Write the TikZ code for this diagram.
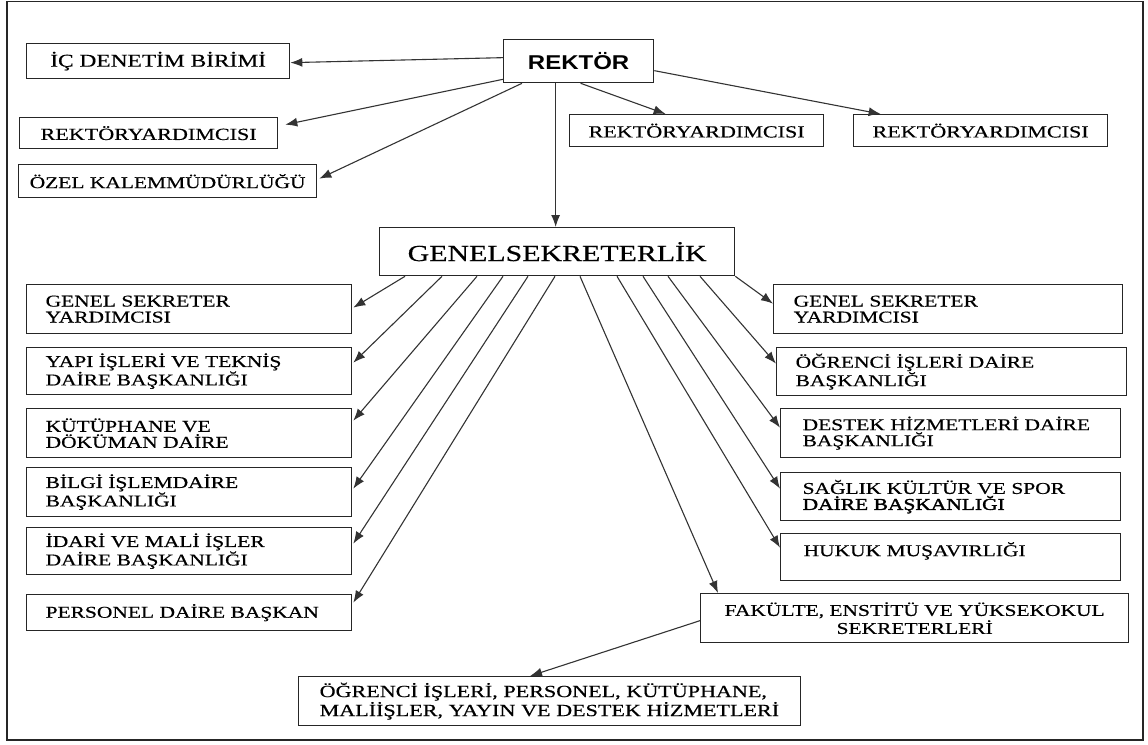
\documentclass[tikz,border=0pt]{standalone}
\usepackage{fontspec}
\setmainfont{Liberation Serif}[FakeStretch=1.3,FakeBold=0.5]
\newfontfamily\rkfont{Liberation Sans}[FakeStretch=1.2]
\newfontfamily\semib{Liberation Serif}[FakeStretch=1.3,FakeBold=1.8]
\usetikzlibrary{arrows.meta}
\newcommand{\fsz}[2]{\fontsize{#1}{#2}\selectfont}
\begin{document}
\begin{tikzpicture}[x=1pt,y=-1pt,
  box/.style={draw=black!85, line width=1.3pt, anchor=north west, inner ysep=0pt, text=black},
  sz/.style n args={2}{minimum width=#1, minimum height=#2},
  lb/.style={box, align=left, font=\fsz{16.5}{16}},
  arr/.style={draw=black!80, line width=1.1pt, -{Latex[length=12pt,width=9pt]}}
]
\useasboundingbox (0,0) rectangle (1148,744);
\draw[line width=1.8pt, black!85] (7,1.5) rectangle (1143,740);

% top level
\node[box, sz={263}{35}, font=\fsz{18}{18}] (ic) at (26,43) {İÇ DENETİM BİRİMİ};
\node[box, sz={150}{43}, font=\rkfont\bfseries\fsz{20}{20}] (rk) at (503,39) {REKTÖR};
\node[box, sz={258}{31}, font=\fsz{17}{17}] (ry1) at (19,117) {REKTÖRYARDIMCISI};
\node[box, sz={298}{33}, font=\fsz{16.5}{16}] (oz) at (18,164) {ÖZEL KALEMMÜDÜRLÜĞÜ};
\node[box, sz={254}{32}, font=\fsz{17}{17}] (ry2) at (569,114) {REKTÖRYARDIMCISI};
\node[box, sz={254}{32}, font=\fsz{17}{17}] (ry3) at (853,114) {REKTÖRYARDIMCISI};
\node[box, sz={355}{48}, font=\fsz{23}{23}] (gs) at (379,227) {GENELSEKRETERLİK};

% left column
\node[lb, sz={325}{49}, inner xsep=19pt, text width=287pt] (l1) at (26,284) {\mbox{GENEL SEKRETER}\\\mbox{YARDIMCISI}};
\node[lb, sz={325}{47}, inner xsep=19pt, text width=287pt] (l2) at (26,347) {\mbox{YAPI İŞLERİ VE TEKNİŞ}\\\mbox{DAİRE BAŞKANLIĞI}};
\node[lb, sz={325}{49}, inner xsep=19pt, text width=287pt] (l3) at (26,408) {\mbox{KÜTÜPHANE VE}\\\mbox{DÖKÜMAN DAİRE}};
\node[lb, sz={325}{49}, inner xsep=19pt, text width=287pt] (l4) at (26,467) {\mbox{BİLGİ İŞLEMDAİRE}\\\mbox{BAŞKANLIĞI}};
\node[lb, sz={325}{47}, inner xsep=19pt, text width=287pt] (l5) at (26,527) {\mbox{İDARİ VE MALİ İŞLER}\\\mbox{DAİRE BAŞKANLIĞI}};
\node[lb, sz={325}{36}, inner xsep=19pt, text width=287pt] (l6) at (26,594) {\mbox{PERSONEL DAİRE BAŞKAN}};

% right column
\node[lb, sz={349}{49}, inner xsep=20pt, text width=309pt] (r1) at (773,284) {\mbox{GENEL SEKRETER}\\\mbox{YARDIMCISI}};
\node[lb, sz={350}{48}, inner xsep=19pt, text width=312pt] (r2) at (776,347) {\mbox{ÖĞRENCİ İŞLERİ DAİRE}\\\mbox{BAŞKANLIĞI}};
\node[lb, sz={340}{49}, inner xsep=22pt, text width=296pt] (r3) at (780,408) {\mbox{DESTEK HİZMETLERİ DAİRE}\\\mbox{BAŞKANLIĞI}};
\node[lb, sz={340}{48}, inner xsep=22pt, text width=296pt] (r4) at (780,472) {\mbox{SAĞLIK KÜLTÜR VE SPOR}\\\mbox{\semib DAİRE BAŞKANLIĞI}};
\node[lb, sz={340}{47}, inner xsep=23pt, text width=294pt] (r5) at (780,533) {\mbox{HUKUK MUŞAVIRLIĞI}\\\mbox{}};

% bottom
\node[box, sz={428}{49}, align=center, font=\fsz{16.5}{18}] (fak) at (700,593) {FAKÜLTE, ENSTİTÜ VE YÜKSEKOKUL\\SEKRETERLERİ};
\node[lb, sz={502}{49}, inner xsep=21pt, text width=460pt, font=\fsz{17}{19}] (bot) at (298,676) {\mbox{ÖĞRENCİ İŞLERİ, PERSONEL, KÜTÜPHANE,}\\\mbox{MALİİŞLER, YAYIN VE DESTEK HİZMETLERİ}};

% rektor connectors
\draw[arr] ([yshift=3.5pt]rk.west) -- ([yshift=-1.5pt]ic.east);
\draw[arr] ([yshift=4pt]rk.south west) -- ([xshift=7pt,yshift=8.5pt]ry1.east);
\draw[arr] ([xshift=19pt]rk.south west) -- ([xshift=2pt,yshift=2.5pt]oz.east);
\draw[arr] ([xshift=-1.5pt]gs.north |- rk.south) -- ([xshift=-1.5pt]gs.north);
\draw[arr] ([xshift=2pt]rk.south) -- ([xshift=-31pt]ry2.north);
\draw[arr] ([yshift=-9.5pt]rk.east) -- ([xshift=-100pt]ry3.north);

% genel sekreterlik fan
\draw[arr] ([xshift=26pt]gs.south west) -- ([xshift=1pt,yshift=1.5pt]l1.east);
\draw[arr] ([xshift=63pt]gs.south west) -- ([xshift=1pt,yshift=8.5pt]l2.east);
\draw[arr] ([xshift=98pt]gs.south west) -- ([xshift=1pt,yshift=12.5pt]l3.east);
\draw[arr] ([xshift=124pt]gs.south west) -- ([xshift=1pt,yshift=3.5pt]l4.east);
\draw[arr] ([xshift=149pt]gs.south west) -- ([xshift=1pt,yshift=7.5pt]l5.east);
\draw[arr] ([xshift=176pt]gs.south west) -- ([xshift=1pt,yshift=10pt]l6.east);

\draw[arr] (gs.south east) -- ([yshift=5.5pt]r1.west);
\draw[arr] ([xshift=321pt]gs.south west) -- ([yshift=8pt]r2.west);
\draw[arr] ([xshift=289pt]gs.south west) -- ([yshift=5.5pt]r3.west);
\draw[arr] ([xshift=264pt]gs.south west) -- ([yshift=8pt]r4.west);
\draw[arr] ([xshift=238pt]gs.south west) -- ([yshift=9.5pt]r5.west);
\draw[arr] ([xshift=201pt]gs.south west) -- ([xshift=18pt]fak.north west);

\draw[arr] ([yshift=-2.5pt]fak.west) -- ([xshift=232pt]bot.north west);
\end{tikzpicture}
\end{document}
